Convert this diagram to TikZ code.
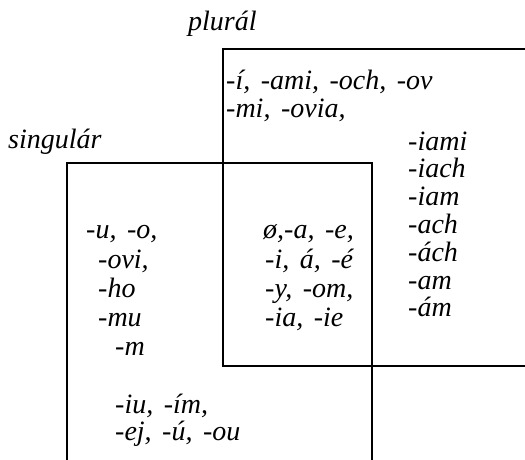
\documentclass[tikz,border=0pt]{standalone}
\usepackage{fontspec}
\setmainfont{Liberation Serif}[WordSpace=1.5]
\usetikzlibrary{positioning}
\tikzset{
  suf/.style = {anchor=base west, inner sep=0pt,
                font=\fontsize{28}{30}\selectfont\itshape},
  hdr/.style = {suf},
  set/.style = {draw, line width=1.3pt},
}
\begin{document}
\begin{tikzpicture}[x=1pt, y=-1pt]
  \useasboundingbox (0,0) rectangle (525,459);
  \clip (0,0) rectangle (525,459);

  % the two sets, both run off the page
  \draw[set] (223,49) rectangle (600,366);
  \draw[set] (67,163) rectangle (372,520);

  \node[hdr] (pl) at (188,30) {plurál};
  \node[hdr] (sg) at (8,148) {singulár};

  % plural only
  \node[suf] (p1) at (226,89) {-í, -ami, -och, -ov};
  \node[suf] (p2) at (226,117) {-mi, -ovia,};
  \foreach \s [count=\i from 0] in {-iami,-iach,-iam,-ach,-ách,-am,-ám}
    \node[suf] (r\i) at (408,{150+27.8*\i}) {\s};

  % both
  \node[suf] (b1) at (263,238) {ø,-a, -e,};
  \node[suf] (b2) at (265,268) {-i, á, -é};
  \node[suf] (b3) at (265,297) {-y, -om,};
  \node[suf] (b4) at (265,326) {-ia, -ie};

  % singular only
  \node[suf] (s1) at (86,238) {-u, -o,};
  \node[suf] (s2) at (98,268) {-ovi,};
  \node[suf] (s3) at (98,297) {-ho};
  \node[suf] (s4) at (98,326) {-mu};
  \node[suf] (s5) at (115,355) {-m};
  \node[suf] (s6) at (115,413) {-iu, -ím,};
  \node[suf] (s7) at (115,440) {-ej, -ú, -ou};
\end{tikzpicture}
\end{document}
